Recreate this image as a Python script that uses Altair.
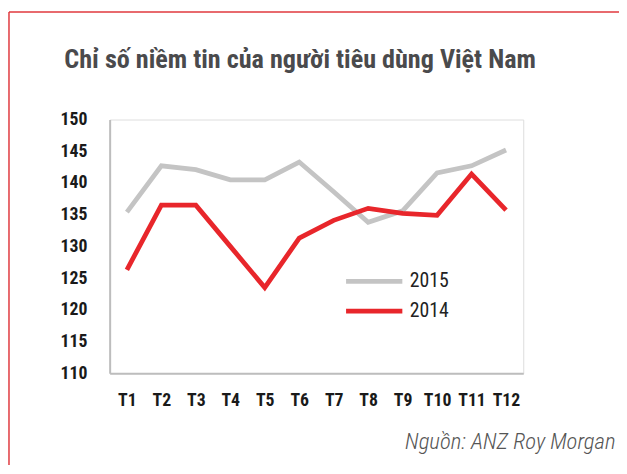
import altair as alt
import pandas as pd

months = ["T1", "T2", "T3", "T4", "T5", "T6", "T7", "T8", "T9", "T10", "T11", "T12"]
y2015 = [135.4, 142.7, 142.1, 140.5, 140.5, 143.3, 138.6, 133.8, 135.6, 141.6, 142.7, 145.2]
y2014 = [126.3, 136.5, 136.5, 130.0, 123.5, 131.3, 134.1, 136.0, 135.2, 134.9, 141.4, 135.7]
series = ["2015", "2014"]
colors = ["#c4c4c4", "#e8262b"]
y_ticks = [110, 115, 120, 125, 130, 135, 140, 145, 150]

rows = []
for name, vals in zip(series, [y2015, y2014]):
    for m, v in zip(months, vals):
        rows.append({"month": m, "value": v, "series": name})
df = pd.DataFrame(rows)

FONT = "Roboto Condensed, Liberation Sans Narrow, Archivo Narrow, PT Sans Narrow, DejaVu Sans Condensed, sans-serif"
W, H = 419, 257

lines = alt.Chart(df).mark_line(strokeWidth=4.8).encode(
    x=alt.X("month:N", sort=months,
            scale=alt.Scale(type="point", padding=0.5),
            axis=alt.Axis(title="Nguồn: ANZ Roy Morgan", labelAngle=0, ticks=False, grid=False,
                          domainColor="#bdbdbd", domainWidth=2,
                          labelFont=FONT, labelFontSize=18, labelFontWeight="bold",
                          labelColor="#1a1a1a", labelPadding=19,
                          titleFont=FONT, titleFontSize=23, titleFontStyle="italic",
                          titleFontWeight=300, titleColor="#555555",
                          titleAlign="right", titleAnchor="end", titleBaseline="middle",
                          titleX=512, titleY=69)),
    y=alt.Y("value:Q",
            scale=alt.Scale(domain=[110, 150], nice=False, zero=False),
            axis=alt.Axis(title=None, values=y_ticks, ticks=False, grid=False,
                          domainColor="#bdbdbd", domainWidth=2,
                          labelFont=FONT, labelFontSize=18, labelFontWeight="bold",
                          labelColor="#1a1a1a", labelPadding=23)),
    color=alt.Color("series:N",
                    scale=alt.Scale(domain=series, range=colors),
                    legend=alt.Legend(title=None, orient="none", legendX=256, legendY=152,
                                      symbolType="M-3,0H3", symbolSize=361,
                                      symbolStrokeWidth=4.8, labelOffset=24,
                                      rowPadding=8,
                                      labelFont=FONT, labelFontSize=20,
                                      labelColor="#222222")),
    detail="series:N",
)

frame_src = alt.Data(values=[{}])
frame_top = alt.Chart(frame_src).mark_rule(color="#e0393e", strokeWidth=1.5).encode(
    x=alt.value(-102), x2=alt.value(600), y=alt.value(-109))
frame_left = alt.Chart(frame_src).mark_rule(color="#e0393e", strokeWidth=1.5).encode(
    x=alt.value(-102), y=alt.value(-109), y2=alt.value(400))

chart = alt.layer(frame_top, frame_left, lines).properties(
    width=W, height=H,
    title=alt.TitleParams("Chỉ số niềm tin của người tiêu dùng Việt Nam",
                          anchor="start", frame="group", dx=-46, offset=-63,
                          font=FONT, fontSize=26.5, fontWeight="bold", color="#4a4a4c"),
    autosize=alt.AutoSizeParams(type="none"),
    padding={"left": 103, "top": 110, "right": 97, "bottom": 90},
).configure_view(stroke=None).configure(background="white")

chart.save("out.html", embed_options={"renderer": "svg", "actions": False})
